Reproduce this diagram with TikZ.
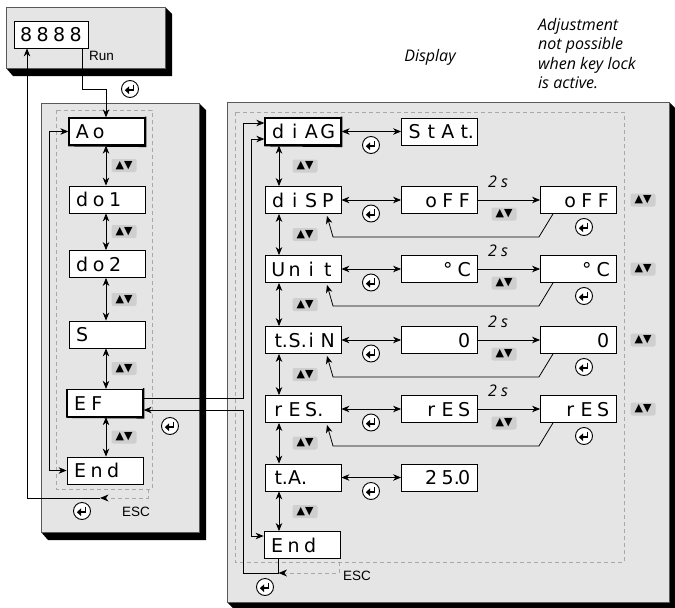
\documentclass[tikz,border=0pt]{standalone}
\usepackage{fontspec}
\setmainfont{DejaVu Sans}
\newfontfamily\segfont{DejaVu Sans}
\newfontfamily\itfont{Open Sans}
\newfontfamily\arialfont{Liberation Sans}
\newfontfamily\symfont{DejaVu Sans}
\usetikzlibrary{arrows.meta}
\definecolor{panelgray}{gray}{0.90}
\definecolor{keygray}{gray}{0.81}
\definecolor{dashgray}{gray}{0.66}
\newcommand\dg[1]{\makebox[16.5pt][c]{#1}}
\newcommand\dotted[1]{#1\rlap{.}}
\begin{document}
\begin{tikzpicture}[x=1pt,y=-1pt,
  panel/.style={fill=panelgray, draw=black!65, line width=0.6pt},
  dashbox/.style={draw=dashgray, dash pattern=on 4pt off 3pt, line width=0.7pt},
  lcd/.style={draw, fill=white, line width=0.8pt, minimum width=76pt, minimum height=27pt,
    inner sep=0pt, text height=14pt, text depth=0pt, font=\segfont\fontsize{19}{19}\selectfont},
  lcdsel/.style={lcd, line width=1.3pt},
  conn/.style={line width=0.8pt, -{Stealth[length=8pt,width=6.5pt,inset=2.5pt]}},
  dconn/.style={line width=0.8pt, {Stealth[length=8pt,width=6.5pt,inset=2.5pt]}-{Stealth[length=8pt,width=6.5pt,inset=2.5pt]}},
  dconn2/.style={line width=0.8pt, dashgray, dash pattern=on 4pt off 3pt},
  key/.style={fill=keygray, rounded corners=2pt, minimum width=25pt, minimum height=13pt,
    inner sep=0pt, font=\symfont\fontsize{11}{11}\selectfont},
  lbl/.style={font=\itfont\itshape\fontsize{16}{16}\selectfont, inner sep=0pt},
  notelbl/.style={font=\itfont\itshape\fontsize{16}{19.5}\selectfont, inner sep=0pt, align=left},
  sans/.style={font=\arialfont\fontsize{13.5}{13.5}\selectfont, inner sep=0pt},
  enterkey/.pic={
    \draw[line width=0.9pt, fill=white] (0,0) circle (8.5);
    \draw[line width=1.7pt] (3.5,-4.5) -- (3.5,1.2) -- (-1.5,1.2);
    \fill (-5.2,1.2) -- (-1,-2.6) -- (-1,5) -- cycle;
  }]
\useasboundingbox (0,0) rectangle (675,608);

% ---------- panels with shadows ----------
\fill[black] (6,68) -- (13,76) -- (172,76) -- (172,14) -- (165,7) -- cycle;
\draw[panel] (6,7) rectangle (165,68);
\fill[black] (41,532) -- (48,540) -- (206,540) -- (206,110) -- (199,103) -- cycle;
\draw[panel] (41,103) rectangle (199,532);
\fill[black] (227,602) -- (233,608) -- (675,608) -- (675,108) -- (669,102) -- cycle;
\draw[panel] (227,102) rectangle (669,602);
\draw[dashbox] (56,110) rectangle (152,489);
\draw[dashbox] (235,112) rectangle (624,562);

% ---------- texts ----------
\node[lbl] (display) at (430,57) {Display};
\node[notelbl, anchor=north west] (note) at (538,18)
  {Adjustment\\not possible\\when key lock\\is active.};
\node[sans, anchor=west] (runlbl) at (89,56) {Run};

% ---------- top display ----------
\node[lcd, minimum width=74pt] (run) at (51,34.5) {\dg{8}\dg{8}\dg{8}\dg{8}};

% ---------- left menu ----------
\node[lcdsel] (ao)  at (107,131.5) {\dg{A}\dg{o}\dg{}\dg{}};
\node[lcd]    (do1) at (107,199.5) {\dg{d}\dg{o}\dg{1}\dg{}};
\node[lcd]    (do2) at (107,264)   {\dg{d}\dg{o}\dg{2}\dg{}};
\node[lcd]    (s)   at (107,334.5) {\dg{S}\dg{}\dg{}\dg{}};
\node[lcdsel] (ef)  at (105,403)   {\dg{E}\dg{F}\dg{}\dg{}};
\node[lcd]    (lend) at (105,470.5) {\dg{E}\dg{n}\dg{d}\dg{}};

% ---------- right menu ----------
\node[lcdsel] (diag) at (303,131.5) {\dg{d}\dg{i}\dg{A}\dg{G}};
\node[lcd] (disp) at (303,200)   {\dg{d}\dg{i}\dg{S}\dg{P}};
\node[lcd] (unit) at (303,269)   {\dg{U}\dg{n}\dg{i}\dg{t}};
\node[lcd] (tsin) at (303,340)   {\dg{\dotted{t}}\dg{\dotted{S}}\dg{i}\dg{N}};
\node[lcd] (res)  at (303,409)   {\dg{r}\dg{E}\dg{\dotted{S}}\dg{}};
\node[lcd] (ta)   at (303,477.5) {\dg{\dotted{t}}\dg{\dotted{A}}\dg{}\dg{}};
\node[lcd] (rend) at (302,545)   {\dg{E}\dg{n}\dg{d}\dg{}};

\node[lcd] (stat) at (439.5,131.5) {\dg{S}\dg{t}\dg{A}\dg{\dotted{t}}};
\node[lcd] (offa) at (439.5,200)   {\dg{}\dg{o}\dg{F}\dg{F}};
\node[lcd] (dega) at (439.5,269)   {\dg{}\dg{}\dg{°}\dg{C}};
\node[lcd] (zeroa) at (439.5,340)  {\dg{}\dg{}\dg{}\dg{0}};
\node[lcd] (resa) at (439.5,409)   {\dg{}\dg{r}\dg{E}\dg{S}};
\node[lcd] (val)  at (439.5,477.5) {\dg{}\dg{2}\dg{\dotted{5}}\dg{0}};

\node[lcd] (offb) at (578.5,200)  {\dg{}\dg{o}\dg{F}\dg{F}};
\node[lcd] (degb) at (578.5,269)  {\dg{}\dg{}\dg{°}\dg{C}};
\node[lcd] (zerob) at (578.5,340) {\dg{}\dg{}\dg{}\dg{0}};
\node[lcd] (resb) at (578.5,409)  {\dg{}\dg{r}\dg{E}\dg{S}};

% emphasised borders of selected boxes
\foreach \n in {ao,diag,ef}{
  \draw[line width=1.6pt] ([yshift=0.8pt]\n.north east) -- ([yshift=-0.6pt]\n.south east) -- (\n.south west);
}

% ---------- left connectors ----------
\draw[conn] (82,48) -- (82,89) -- (106,89) -- (ao.north -| 106,0);
\pic at (130,89) {enterkey};
\draw[dconn] (ao.south -| 106,0) -- (do1.north -| 106,0);
\draw[dconn] (do1.south -| 106,0) -- (do2.north -| 106,0);
\draw[dconn] (do2.south -| 106,0) -- (s.north -| 106,0);
\draw[dconn] (s.south -| 106,0) -- (ef.north -| 106,0);
\draw[dconn] (ef.south -| 106,0) -- (lend.north -| 106,0);
\node[key] (k1) at (124,165.5) {▲▼};
\node[key] (k2) at (124,231.5) {▲▼};
\node[key] (k3) at (124,299.5) {▲▼};
\node[key] (k4) at (124,368.5) {▲▼};
\node[key] (k5) at (124,437) {▲▼};
\draw[dconn] (ao.west) -- (49,131.5) -- (49,470.5) -- (lend.west);
% ESC from left menu back to Run
\coordinate (lescA) at (148,489);
\coordinate (lescB) at (100,498);
\draw[dconn2] (lescA) -- (148,498) -- (108,498);
\fill (lescB) -- (108.5,494.5) -- (106,498) -- (108.5,501.5) -- cycle;
\draw[conn] (lescB) -- (27,498) -- (run.south -| 27,0);
\pic at (82,511) {enterkey};
\node[sans] (lesc) at (136,511.5) {ESC};

% ---------- EF <-> sub menu ----------
\draw[conn] ([yshift=5pt]ef.east) -- (243,398) -- (243,123) -- ([yshift=8.5pt]diag.west);
\pic at (170,426) {enterkey};
\draw[conn] (rend.south -| 278,0) -- (278,573) -- (243,573) -- (243,410) -- ([yshift=-7pt]ef.east);
\draw[dconn] ([yshift=-7.5pt]diag.west) -- (251,139) -- (251,536) -- ([yshift=9pt]rend.west);
\coordinate (rescA) at (339,562);
\draw[dconn2] (rescA) -- (339,573) -- (286,573);
\fill (278.5,573) -- (287,569.5) -- (284.5,573) -- (287,576.5) -- cycle;
\pic at (265,587) {enterkey};
\node[sans] (resc) at (357,575.5) {ESC};

% ---------- right menu vertical ----------
\foreach \a/\b/\m in {diag/disp/166, disp/unit/234.5, unit/tsin/304.5, tsin/res/374.5, res/ta/443, ta/rend/511.5}{
  \draw[dconn] (\a.south -| 279,0) -- (\b.north -| 279,0);
  \node[key] at (305,\m) {▲▼};
}

% ---------- horizontal links ----------
\draw[dconn] (diag.east) -- (stat.west);
\pic at (371,145) {enterkey};
\draw[dconn] (ta.east) -- (val.west);
\pic at (371,491) {enterkey};
\foreach \l/\m/\r/\y in {disp/offa/offb/200, unit/dega/degb/269, tsin/zeroa/zerob/340, res/resa/resb/409}{
  \draw[dconn] (\l.east) -- (\m.west);
  \pic at (371,\y+13.5) {enterkey};
  \draw[conn] (\m.east) -- (\r.west);
  \node[lbl] at (498,\y-18) {2 s};
  \node[key] at (504,\y+14) {▲▼};
  \node[key] at (643,\y) {▲▼};
  \pic at (584,\y+27) {enterkey};
  \draw[conn] ([xshift=-25.5pt]\r.south) -- ++(-14,23) -- ++(-206,0) -- ([xshift=24pt,yshift=-2pt]\l.south);
}
\end{tikzpicture}
\end{document}
